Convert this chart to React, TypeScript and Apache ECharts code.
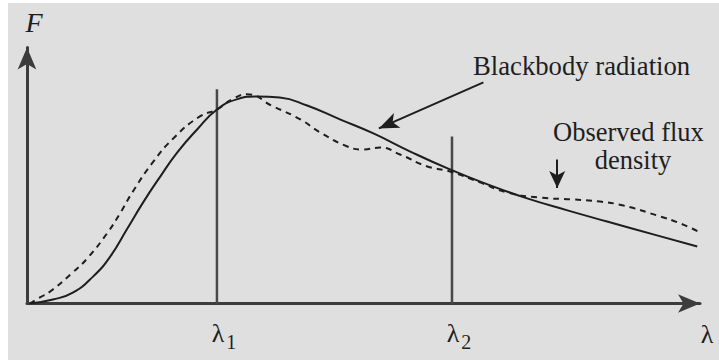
import React, { useEffect, useRef } from 'react';
import * as echarts from 'echarts';

// Wavelength (arbitrary units) and flux density F for the ideal blackbody curve
const blackbodyLambda = [0.04, 0.38, 0.67, 0.97, 1.22, 1.46, 1.7, 1.95, 2.2, 2.49, 2.78, 3.07, 3.37, 3.7, 4.1, 4.58, 5.07, 5.61, 6.19, 6.78, 7.32, 7.91, 8.49, 9.22, 9.81];
const blackbodyFlux = [0, 0.15, 0.41, 1.02, 1.77, 2.78, 3.8, 4.77, 5.68, 6.54, 7.29, 7.67, 7.78, 7.74, 7.44, 6.92, 6.39, 5.71, 5.04, 4.44, 3.95, 3.5, 3.08, 2.56, 2.14];

// Observed flux density
const observedLambda = [0.04, 0.19, 0.34, 0.67, 0.88, 1.17, 1.36, 1.55, 1.84, 2.14, 2.53, 2.78, 3.0, 3.22, 3.6, 4.0, 4.29, 4.69, 4.92, 5.17, 5.46, 5.86, 6.19, 6.63, 7.03, 7.51, 7.99, 8.39, 8.73, 9.22, 9.56, 9.85];
const observedFlux = [0, 0.23, 0.45, 1.17, 1.69, 2.63, 3.38, 4.21, 5.3, 6.2, 7.03, 7.29, 7.67, 7.86, 7.41, 6.92, 6.43, 5.9, 5.79, 5.86, 5.6, 5.15, 4.96, 4.55, 4.17, 3.98, 3.91, 3.83, 3.68, 3.31, 3.01, 2.67];

// Marked wavelengths λ1, λ2 and the height of their vertical markers
const bandLambda = [2.78, 6.22];
const bandTop = [8.05, 6.28];
const bandSubscripts = ['1', '2'];

// Annotation arrows: [start, end] in data units
const blackbodyArrow = [[6.68, 8.31], [5.15, 6.58]];
const observedArrow = [[7.76, 5.41], [7.76, 4.34]];

const SERIF = '"Liberation Serif", "Times New Roman", serif';
const INK = '#1e1e1e';
const AXIS = '#3c3c3c';

const zip = (xs: number[], ys: number[]) => xs.map((x, i) => [x, ys[i]]);

export default function App() {
  const ref = useRef<HTMLDivElement>(null);

  useEffect(() => {
    const chart = echarts.init(ref.current!, null, { renderer: 'svg' });

    const arrowLine = (pts: number[][], size: number[]) => ({
      silent: true,
      animation: false,
      label: { show: false },
      emphasis: { disabled: true },
      lineStyle: { color: INK, width: 2, type: 'solid' },
      data: [[
        { coord: pts[0], symbol: 'none' },
        { coord: pts[1], symbol: 'arrow', symbolSize: size },
      ]],
    });

    const bandSeries = bandLambda.map((x, i) => ({
      type: 'line',
      name: 'λ' + bandSubscripts[i],
      data: [[x, 0], [x, bandTop[i]]],
      symbol: 'none',
      silent: true,
      lineStyle: { color: '#484848', width: 2.5 },
    }));

    chart.setOption({
      animation: false,
      backgroundColor: '#dfdfdf',
      grid: { left: 19, right: 19, top: 44.5, bottom: 56.5 },
      xAxis: {
        type: 'value',
        min: 0,
        max: 9.85,
        axisLine: {
          show: true,
          symbol: ['none', 'arrow'],
          symbolSize: [14, 22],
          lineStyle: { color: AXIS, width: 3 },
        },
        axisTick: { show: false },
        splitLine: { show: false },
        axisLabel: {
          customValues: bandLambda,
          margin: 12,
          padding: [0, 0, 0, 14],
          formatter: (v: number) => {
            const i = bandLambda.indexOf(v);
            return `{l|λ}{s|${bandSubscripts[i] ?? ''}}`;
          },
          rich: {
            l: { fontFamily: SERIF, fontSize: 26, lineHeight: 36, color: INK },
            s: { fontFamily: SERIF, fontSize: 20, lineHeight: 18, verticalAlign: 'bottom', color: INK, padding: [0, 0, 0, 2] },
          },
        },
      },
      yAxis: {
        type: 'value',
        min: 0,
        max: 9.62,
        axisLine: {
          show: true,
          symbol: ['none', 'arrow'],
          symbolSize: [14, 22],
          lineStyle: { color: AXIS, width: 3 },
        },
        axisTick: { show: false },
        splitLine: { show: false },
        axisLabel: { show: false },
      },
      series: [
        ...bandSeries,
        {
          type: 'line',
          name: 'Blackbody radiation',
          data: zip(blackbodyLambda, blackbodyFlux),
          smooth: 0.5,
          symbol: 'none',
          silent: true,
          lineStyle: { color: INK, width: 2 },
          markLine: arrowLine(blackbodyArrow, [12, 20]),
        },
        {
          type: 'line',
          name: 'Observed flux density',
          data: zip(observedLambda, observedFlux),
          smooth: 0.5,
          symbol: 'none',
          silent: true,
          lineStyle: { color: INK, width: 2, type: [6, 5] },
          markLine: arrowLine(observedArrow, [12, 17]),
        },
      ],
      graphic: [
        {
          type: 'text', x: 26, y: 19.5, silent: true,
          style: { text: 'F', fontFamily: SERIF, fontStyle: 'italic', fontSize: 28, fill: INK, align: 'center', verticalAlign: 'middle' },
        },
        {
          type: 'text', x: 699, y: 331, silent: true,
          style: { text: 'λ', fontFamily: SERIF, fontSize: 26, fill: INK, align: 'center', verticalAlign: 'middle' },
        },
        {
          type: 'text', x: 465, y: 63, silent: true,
          style: { text: 'Blackbody radiation', fontFamily: SERIF, fontSize: 26.7, fill: INK, align: 'left', verticalAlign: 'middle' },
        },
        {
          type: 'text', x: 545, y: 128.5, silent: true,
          style: { text: 'Observed flux', fontFamily: SERIF, fontSize: 26.5, fill: INK, align: 'left', verticalAlign: 'middle' },
        },
        {
          type: 'text', x: 625, y: 157, silent: true,
          style: { text: 'density', fontFamily: SERIF, fontSize: 26.5, fill: INK, align: 'center', verticalAlign: 'middle' },
        },
      ],
    });

    return () => chart.dispose();
  }, []);

  return (
    <div
      ref={ref}
      style={{ position: 'absolute', left: 8, top: 3, width: 711, height: 357, background: '#dfdfdf' }}
    />
  );
}
